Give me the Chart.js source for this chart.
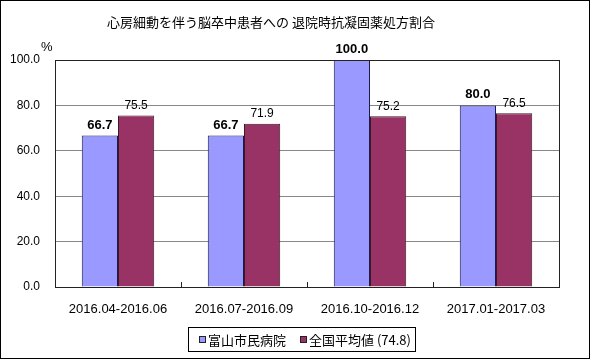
<!DOCTYPE html>
<html><head><meta charset="utf-8">
<script src="https://cdn.jsdelivr.net/npm/chart.js@4/dist/chart.umd.min.js"></script>
<style>html,body{margin:0;padding:0;background:#fff}#wrap{width:590px;height:359px;position:relative}</style>
</head><body><div id="wrap"><canvas id="c" width="590" height="359"></canvas></div>
<script>
const title = "心房細動を伴う脳卒中患者への 退院時抗凝固薬処方割合";
const categories = ["2016.04-2016.06", "2016.07-2016.09", "2016.10-2016.12", "2017.01-2017.03"];
const hospitalName = "富山市民病院";
const hospitalValues = [66.7, 66.7, 100.0, 80.0];
const nationalName = "全国平均値 (74.8)";
const nationalValues = [75.5, 71.9, 75.2, 76.5];
const yTicks = [0, 20, 40, 60, 80, 100];
const unit = "%";

const FONT = "'Liberation Sans', Arial, sans-serif";
const JFONT = "'Noto Sans CJK JP', sans-serif";

const deco = {
  id: 'deco',
  afterDraw(chart) {
    const ctx = chart.ctx, a = chart.chartArea;
    ctx.save();
    ctx.strokeStyle = '#000'; ctx.lineWidth = 1;
    ctx.strokeRect(0.5, 0.5, chart.width - 1, chart.height - 1);
    ctx.strokeStyle = '#222';
    ctx.strokeRect(Math.round(a.left) + 0.5, Math.round(a.top) + 0.5, Math.round(a.right - a.left), Math.round(a.bottom - a.top));
    const xs = chart.scales.x;
    ctx.beginPath();
    for (let i = 1; i < categories.length; i++) {
      const x = Math.round((xs.getPixelForValue(i - 1) + xs.getPixelForValue(i)) / 2) + 0.5;
      ctx.moveTo(x, a.bottom); ctx.lineTo(x, a.bottom - 5);
    }
    ctx.stroke();
    ctx.fillStyle = '#000';
    ctx.font = "13px " + JFONT;
    ctx.textAlign = 'center'; ctx.textBaseline = 'middle';
    ctx.fillText(title, 271, 22);
    ctx.font = "13px " + FONT;
    ctx.textAlign = 'left';
    ctx.fillText(unit, 41, 47);
    chart.data.datasets.forEach((ds, di) => {
      const meta = chart.getDatasetMeta(di);
      meta.data.forEach((bar, i) => {
        ctx.font = (di === 0 ? "bold 13px " : "12px ") + FONT;
        ctx.textAlign = 'center'; ctx.textBaseline = 'bottom';
        ctx.fillText(ds.data[i].toFixed(1), bar.x, bar.y - 4);
      });
    });
    const lx = 188, ly = 327, lw = 227, lh = 24;
    ctx.strokeStyle = '#000';
    ctx.strokeRect(lx + 0.5, ly + 0.5, lw, lh);
    ctx.font = "13px " + JFONT;
    ctx.textBaseline = 'middle'; ctx.textAlign = 'left';
    const items = [[hospitalName, '#9999FF', 199], [nationalName, '#993366', 300]];
    items.forEach(([t, c, x]) => {
      ctx.fillStyle = c;
      ctx.fillRect(x, ly + 9, 7, 7);
      ctx.strokeStyle = '#222';
      ctx.strokeRect(x + 0.5, ly + 9.5, 6, 6);
      ctx.fillStyle = '#000';
      ctx.fillText(t, x + 9, ly + 13);
    });
    ctx.restore();
  }
};

new Chart(document.getElementById('c'), {
  type: 'bar',
  data: {
    labels: categories,
    datasets: [
      { label: hospitalName, data: hospitalValues, backgroundColor: '#9999FF', borderColor: '#1a1a4d', borderWidth: 1, borderSkipped: 'bottom' },
      { label: nationalName, data: nationalValues, backgroundColor: '#993366', borderColor: '#3a1a26', borderWidth: 1, borderSkipped: 'bottom' }
    ]
  },
  options: {
    responsive: false,
    animation: false,
    events: [],
    layout: { padding: { left: 0, right: 31, top: 60, bottom: 0 } },
    plugins: { legend: { display: false }, tooltip: { enabled: false }, title: { display: false } },
    datasets: { bar: { categoryPercentage: 0.575, barPercentage: 1.0 } },
    scales: {
      x: {
        grid: { display: false },
        border: { display: false },
        ticks: { color: '#000', font: { family: FONT, size: 13 }, padding: 7, maxRotation: 0 },
        afterFit(s) { s.height = 72; }
      },
      y: {
        min: 0, max: 100,
        afterBuildTicks(s) { s.ticks = yTicks.map(v => ({ value: v })); },
        grid: { color: '#888', drawTicks: false },
        border: { display: false },
        ticks: { color: '#000', font: { family: FONT, size: 12 }, padding: 15, callback: v => Number(v).toFixed(1) },
        afterFit(s) { s.width = 55; }
      }
    }
  },
  plugins: [deco]
});
</script></body></html>
